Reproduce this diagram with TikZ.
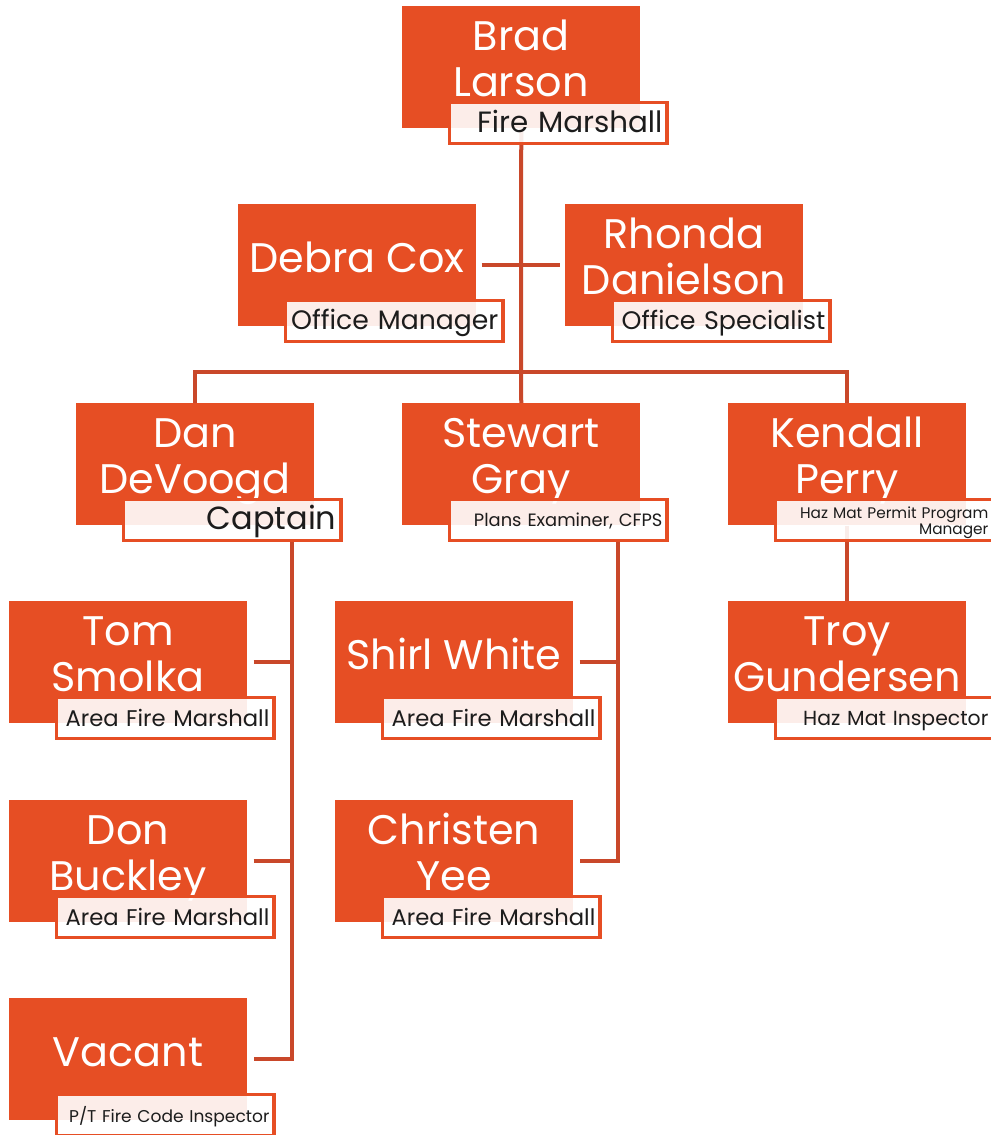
\documentclass[tikz,border=0pt]{standalone}
\usepackage{fontspec}
\setmainfont{Poppins}
\usetikzlibrary{calc}
\pgfdeclarelayer{background}
\pgfsetlayers{background,main}

\definecolor{fireorange}{HTML}{E64E24}
\definecolor{linkline}{HTML}{C9482A}
\definecolor{titleink}{HTML}{1C1C1C}

% name on one line: #1 id, #2 x, #3 y (top left of name box, px), #4 name,
% #5 title font, #6 title
\newcommand{\orgpersonA}[6]{%
  \node[personbox] (#1) at (#2,#3) {};
  \node[nametext] (#1N) at ($(#2,#3)+(119,68)$) {#4};
  \node[titlebox] (#1T) at ($(#2,#3)+(46,95)$) {};
  \node[titletext,font=#5] (#1L) at (#1T.center) {\strut #6\strut};
}
% name on two lines: #1 id, #2 x, #3 y, #4 first line, #5 second line,
% #6 title font, #7 title
\newcommand{\orgpersonB}[7]{%
  \node[personbox] (#1) at (#2,#3) {};
  \node[nametext] (#1N) at ($(#2,#3)+(119,44)$) {#4};
  \node[nametext] (#1M) at ($(#2,#3)+(119,90)$) {#5};
  \node[titlebox] (#1T) at ($(#2,#3)+(46,95)$) {};
  \node[titletext,font=#6] (#1L) at (#1T.center) {\strut #7\strut};
}

\begin{document}
\begin{tikzpicture}[x=0.75pt,y=-0.75pt,
  personbox/.style={fill=fireorange,draw=none,anchor=north west,
    minimum width=178.5pt,minimum height=91.5pt,inner sep=0pt},
  nametext/.style={text=white,anchor=base,inner sep=0pt,
    font=\fontsize{31}{34.5}\selectfont},
  titlebox/.style={fill=white,fill opacity=0.9,draw=fireorange,draw opacity=1,
    line width=2.6pt,anchor=north west,
    minimum width=163pt,minimum height=30.5pt,inner sep=0pt},
  titletext/.style={text=titleink,align=right,text width=156pt,inner sep=0pt,
    yshift=-2pt},
  link/.style={draw=linkline,line width=3pt}]

\useasboundingbox (0,0) rectangle (990,1135);

\orgpersonB{brad}{402}{6}{Brad}{Larson}{\fontsize{22}{25}\selectfont}{Fire Marshall}
\orgpersonA{debra}{238}{204}{Debra Cox}{\fontsize{20}{23}\selectfont}{Office Manager}
\orgpersonB{rhonda}{565}{204}{Rhonda}{Danielson}{\fontsize{19}{22}\selectfont}{Office Specialist}
\orgpersonB{dan}{76}{403}{Dan}{DeVoogd}{\fontsize{24}{27}\selectfont}{Captain}
\orgpersonB{stewart}{402}{403}{Stewart}{Gray}{\fontsize{13.4}{15.5}\selectfont}{Plans Examiner, CFPS}
\orgpersonB{kendall}{728}{403}{Kendall}{Perry}{\fontsize{11.5}{12.2}\selectfont}{Haz Mat Permit Program\\Manager}
\orgpersonB{tom}{9}{601}{Tom}{Smolka}{\fontsize{17}{20}\selectfont}{Area Fire Marshall}
\orgpersonB{don}{9}{800}{Don}{Buckley}{\fontsize{17}{20}\selectfont}{Area Fire Marshall}
\orgpersonA{vacant}{9}{998}{Vacant}{\fontsize{12.8}{15}\selectfont}{P/T Fire Code Inspector}
\orgpersonA{shirl}{335}{601}{Shirl White}{\fontsize{17}{20}\selectfont}{Area Fire Marshall}
\orgpersonB{christen}{335}{800}{Christen}{Yee}{\fontsize{17}{20}\selectfont}{Area Fire Marshall}
\orgpersonB{troy}{728}{601}{Troy}{Gundersen}{\fontsize{15.3}{18}\selectfont}{Haz Mat Inspector}

\begin{pgfonlayer}{background}
  \coordinate (hub) at (521,372);
  \coordinate (danspine) at (292,541);
  \coordinate (stewspine) at (618,541);
  % Fire Marshall down to the division heads
  \draw[link] (brad.south) -- (hub);
  \draw[link,shorten <=3.75pt,shorten >=3.75pt] (debra.east) -- (rhonda.west);
  \draw[link] (dan.north) |- (hub) -| (kendall.north);
  \draw[link] (hub) -- (stewart.north);
  % Captain's team
  \draw[link] (danspine) |- ($(vacant.east)+(6,0)$);
  \draw[link,shorten <=4.5pt] (tom.east) -- (tom.east -| danspine);
  \draw[link,shorten <=4.5pt] (don.east) -- (don.east -| danspine);
  % Plans examiner's team
  \draw[link] (stewspine) |- ($(christen.east)+(6,0)$);
  \draw[link,shorten <=4.5pt] (shirl.east) -- (shirl.east -| stewspine);
  % Haz Mat
  \draw[link] (kendall.south) -- (troy.north);
\end{pgfonlayer}
\end{tikzpicture}
\end{document}
